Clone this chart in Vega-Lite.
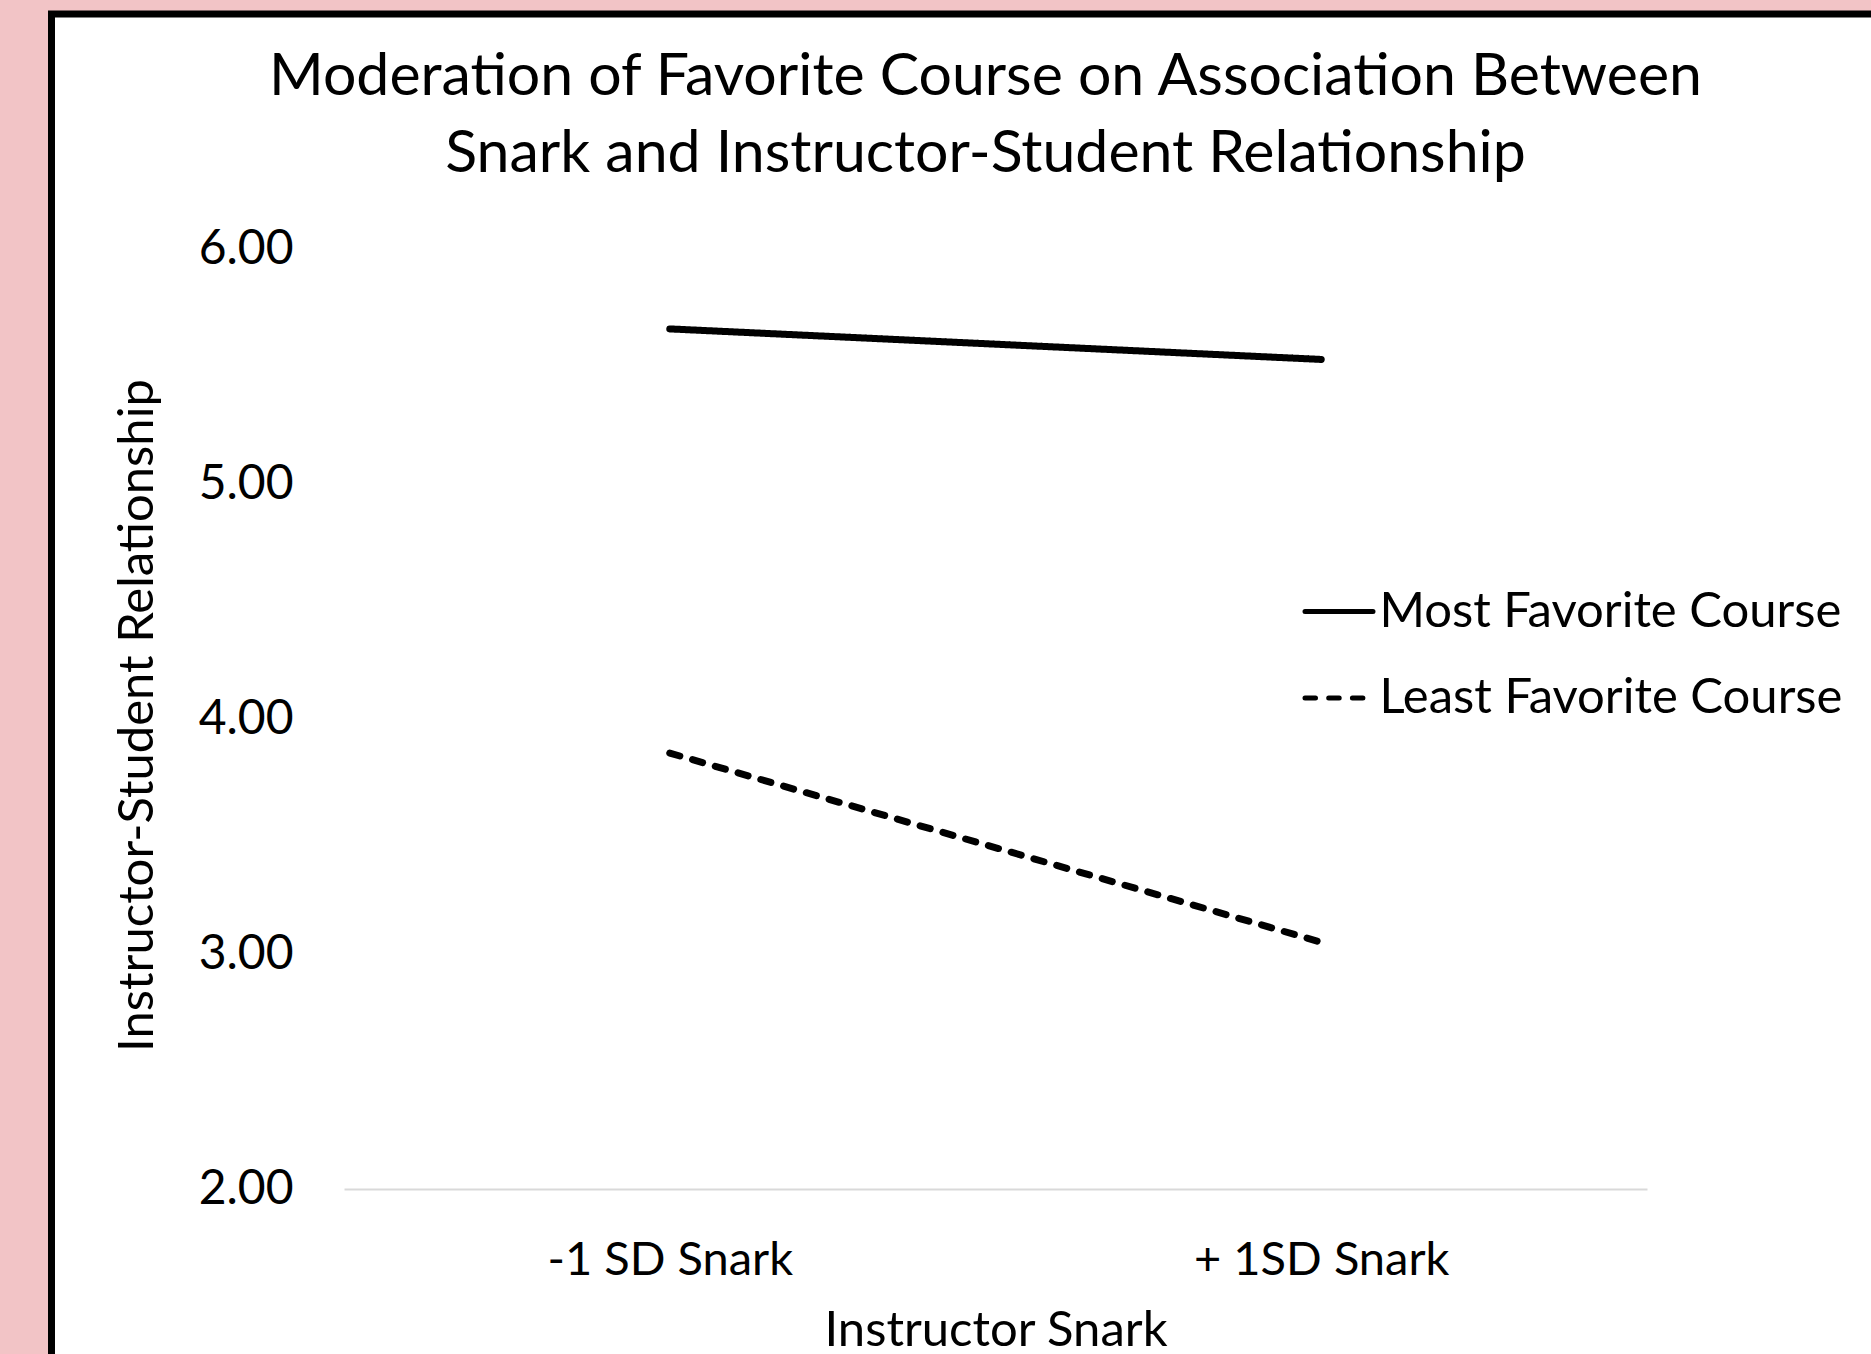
{
  "$schema": "https://vega.github.io/schema/vega-lite/v6.json",
  "autosize": "none",
  "width": 1829.5,
  "height": 1350,
  "padding": {"left": 51.5, "top": 14, "right": -10, "bottom": -10},
  "background": "#f2c4c6",
  "config": {
    "view": {"fill": "white", "stroke": "black", "strokeWidth": 7},
    "font": "Lato"
  },
  "title": {
    "text": ["Moderation of Favorite Course on Association Between", "Snark and Instructor-Student Relationship"],
    "font": "Lato",
    "fontSize": 59,
    "fontWeight": "normal",
    "color": "black",
    "lineHeight": 77.5,
    "anchor": "middle",
    "frame": "group",
    "dx": 19.25,
    "offset": -170
  },
  "data": {
    "values": [
      {"snark": "-1 SD Snark", "course": "Most Favorite Course", "relationship": 5.66},
      {"snark": "+ 1SD Snark", "course": "Most Favorite Course", "relationship": 5.53},
      {"snark": "-1 SD Snark", "course": "Least Favorite Course", "relationship": 3.855},
      {"snark": "+ 1SD Snark", "course": "Least Favorite Course", "relationship": 3.05}
    ]
  },
  "mark": {"type": "line", "color": "black", "strokeWidth": 7, "strokeCap": "round", "clip": false},
  "encoding": {
    "x": {
      "field": "snark",
      "type": "ordinal",
      "sort": ["-1 SD Snark", "+ 1SD Snark"],
      "scale": {"type": "point", "padding": 0.5, "range": [292.5, 1595.5]},
      "axis": {
        "title": "Instructor Snark",
        "orient": "bottom",
        "offset": -175,
        "domainColor": "#d9d9d9",
        "domainWidth": 2,
        "ticks": false,
        "grid": false,
        "labelFont": "Lato",
        "labelFontSize": 47,
        "labelColor": "black",
        "labelPadding": 85,
        "labelBaseline": "alphabetic",
        "labelAngle": 0,
        "labelLimit": 1000,
        "titleFont": "Lato",
        "titleFontSize": 49,
        "titleFontWeight": "normal",
        "titleColor": "black",
        "titleBaseline": "alphabetic",
        "titleY": 156,
        "titleLimit": 2000
      }
    },
    "y": {
      "field": "relationship",
      "type": "quantitative",
      "scale": {"domain": [2, 6], "range": [1175, 235], "nice": false, "zero": false},
      "axis": {
        "orient": "left",
        "offset": -241.5,
        "values": [2, 3, 4, 5, 6],
        "format": ".2f",
        "domain": false,
        "ticks": false,
        "grid": false,
        "labelPadding": 0,
        "labelFont": "Lato",
        "labelFontSize": 48,
        "labelColor": "black",
        "title": "Instructor-Student Relationship",
        "titleFont": "Lato",
        "titleFontSize": 49,
        "titleFontWeight": "normal",
        "titleColor": "black",
        "titleBaseline": "alphabetic",
        "titleAngle": -90,
        "titleAlign": "center",
        "titleX": -141,
        "titleY": 701,
        "titleLimit": 2000
      }
    },
    "strokeDash": {
      "field": "course",
      "type": "nominal",
      "scale": {"domain": ["Most Favorite Course", "Least Favorite Course"], "range": [[1, 0], [10.5, 13.2]]},
      "legend": {
        "orient": "none",
        "legendX": 1251,
        "legendY": 561,
        "title": null,
        "symbolType": "stroke",
        "symbolSize": 4624,
        "symbolStrokeWidth": 5,
        "symbolStrokeColor": "black",
        "labelFont": "Lato",
        "labelFontSize": 49,
        "labelColor": "black",
        "labelOffset": 4,
        "labelLimit": 1000,
        "rowPadding": 24.5,
        "padding": 0,
        "encode": {"symbols": {"update": {"strokeCap": {"value": "round"}}}}
      }
    }
  }
}
